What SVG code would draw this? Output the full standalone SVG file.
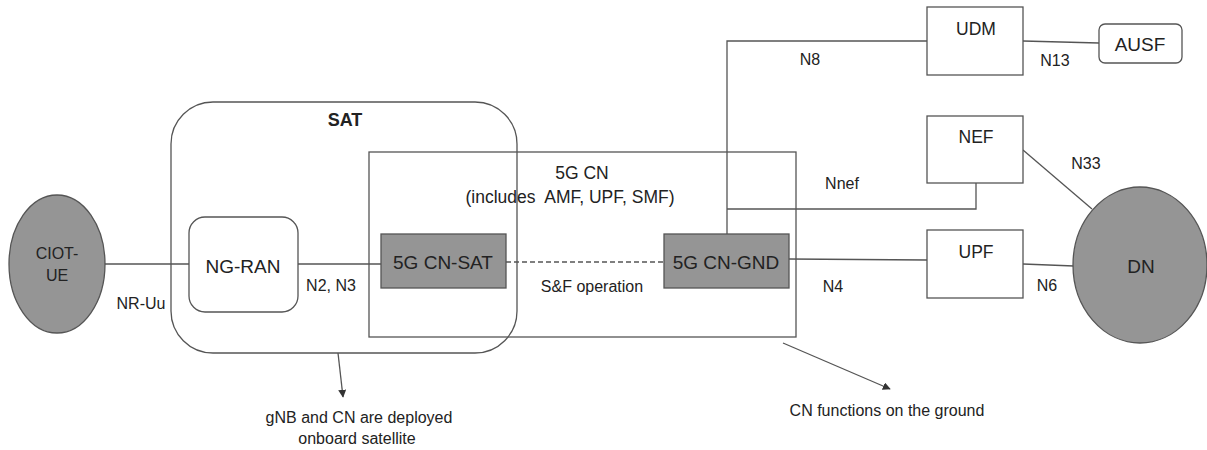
<svg xmlns="http://www.w3.org/2000/svg" width="1207" height="450" viewBox="0 0 1207 450">
<style>
text{font-family:"Liberation Sans",Arial,sans-serif;fill:#222;text-anchor:middle;dominant-baseline:central}
.s{font-size:16px}.m{font-size:17.5px}.l{font-size:19px}
.box{fill:#fff;stroke:#555;stroke-width:1.3}
.gray{fill:#959595;stroke:#555;stroke-width:1.3}
.ln{fill:none;stroke:#555;stroke-width:1.3}
</style>
<defs>
<marker id="ah" viewBox="0 0 10 10" refX="9" refY="5" markerWidth="8" markerHeight="8" orient="auto" markerUnits="userSpaceOnUse"><path d="M0,0 L10,5 L0,10 z" fill="#333"/></marker>
</defs>
<g id="sat">
<rect x="171" y="102" width="346" height="251" rx="42" class="ln"/>
<text x="345" y="120" style="font-size:18px;font-weight:bold">SAT</text>
</g>
<g id="cn">
<rect x="369" y="152" width="427" height="185" class="ln"/>
<text x="582" y="173" class="m">5G CN</text>
<text x="570" y="197" class="m" xml:space="preserve" style="white-space:pre">(includes  AMF, UPF, SMF)</text>
</g>
<g id="connectors">
<line x1="105" y1="264" x2="189" y2="264" class="ln"/>
<line x1="298" y1="264" x2="381" y2="264" class="ln"/>
<line x1="506" y1="262" x2="664" y2="262" class="ln" stroke-dasharray="5,3"/>
<polyline points="727,234 727,41 927,41" class="ln"/>
<line x1="1023" y1="41" x2="1099" y2="43" class="ln"/>
<polyline points="727,209 976,209 976,183" class="ln"/>
<line x1="1023" y1="150" x2="1092" y2="209" class="ln"/>
<line x1="789" y1="259" x2="927" y2="260" class="ln"/>
<line x1="1023" y1="264" x2="1074" y2="266" class="ln"/>
<line x1="338" y1="353" x2="343" y2="397" class="ln" marker-end="url(#ah)"/>
<line x1="783" y1="343" x2="890" y2="389" class="ln" marker-end="url(#ah)"/>
<text x="141" y="303" class="s">NR-Uu</text>
<text x="331" y="285" class="s">N2, N3</text>
<text x="592" y="286" class="s">S&amp;F operation</text>
<text x="810" y="59" class="s">N8</text>
<text x="1055" y="60" class="s">N13</text>
<text x="842" y="183" class="s">Nnef</text>
<text x="1086" y="163" class="s">N33</text>
<text x="833" y="286" class="s">N4</text>
<text x="1047" y="285" class="s">N6</text>
<text x="359" y="417" class="s">gNB and CN are deployed</text>
<text x="357" y="438" class="s">onboard satellite</text>
<text x="887" y="410" class="s">CN functions on the ground</text>
</g>
<g id="ue">
<ellipse cx="57" cy="264" rx="48" ry="69" class="gray"/>
<text x="57" y="253" class="s">CIOT-</text>
<text x="57" y="275" class="s">UE</text>
</g>
<g id="ngran">
<rect x="189" y="217" width="109" height="95" rx="16" class="box"/>
<text x="243" y="266" class="l">NG-RAN</text>
</g>
<g id="cnsat">
<rect x="381" y="234" width="125" height="54" class="gray"/>
<text x="443" y="262" class="l">5G CN-SAT</text>
</g>
<g id="cngnd">
<rect x="664" y="234" width="125" height="54" class="gray"/>
<text x="726" y="262" class="l">5G CN-GND</text>
</g>
<g id="udm">
<rect x="927" y="7" width="96" height="68" class="box"/>
<text x="976" y="29" class="m">UDM</text>
</g>
<g id="ausf">
<rect x="1099" y="24" width="83" height="39" rx="6" class="box"/>
<text x="1140" y="44" class="l">AUSF</text>
</g>
<g id="nef">
<rect x="927" y="116" width="96" height="67" class="box"/>
<text x="976" y="137" class="m">NEF</text>
</g>
<g id="upf">
<rect x="927" y="230" width="96" height="68" class="box"/>
<text x="976" y="252" class="m">UPF</text>
</g>
<g id="dn">
<ellipse cx="1140" cy="265" rx="67" ry="78" class="gray"/>
<text x="1141" y="266" class="l">DN</text>
</g>
</svg>
